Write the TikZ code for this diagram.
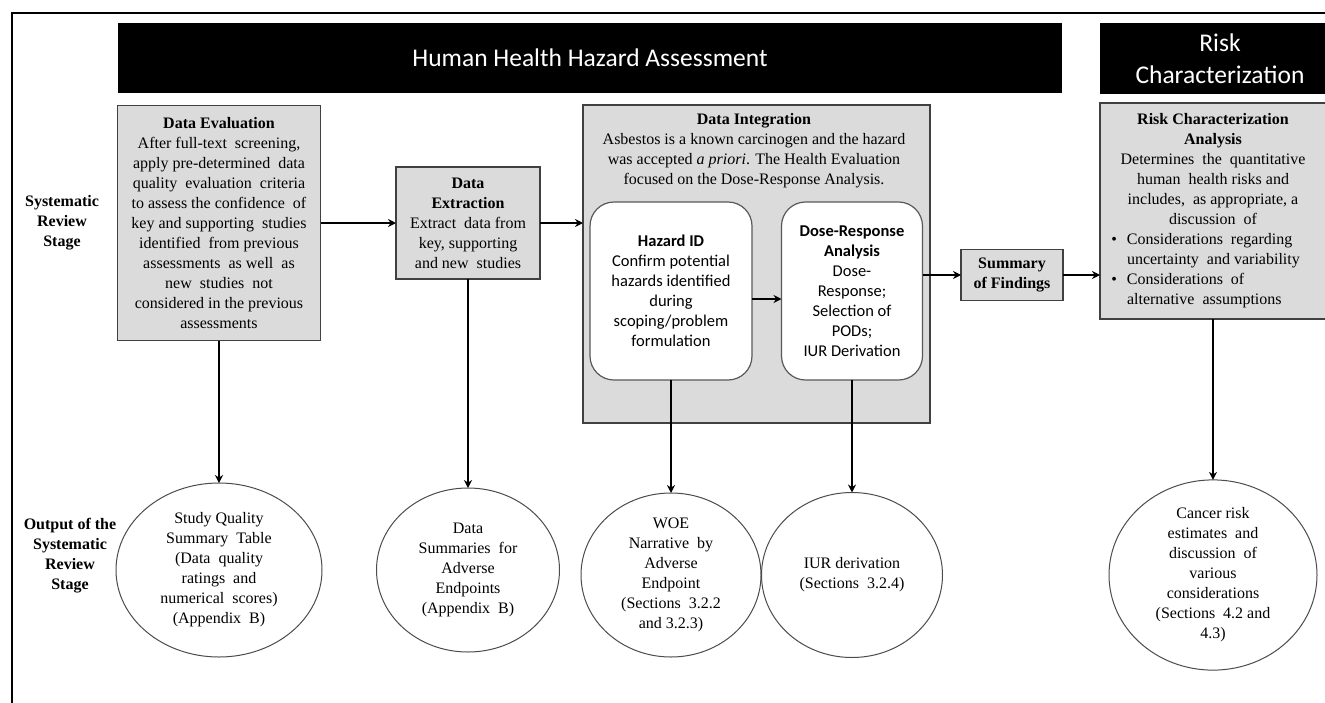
\documentclass[tikz,border=0pt]{standalone}
\usepackage{fontspec}
\setmainfont{Liberation Serif}
\newfontfamily\calib{Carlito}
\usetikzlibrary{arrows.meta,shapes.geometric}

\begin{document}
\begin{tikzpicture}[x=1pt,y=-1pt,
  every node/.style={inner sep=0pt,outer sep=0pt},
  body/.style={font=\fontsize{16}{20}\selectfont,align=center},
  banner/.style={fill=black,text=white,font=\calib\fontsize{25.5}{32}\selectfont,align=center},
  graybox/.style={body,draw=black!75,line width=1.2pt,fill=black!14},
  roundbox/.style={draw=black!65,line width=1.2pt,fill=white,rounded corners=24pt,align=center,font=\calib\fontsize{16.5}{20}\selectfont},
  outcircle/.style={body,ellipse,draw=black!70,line width=1pt,fill=white},
  sidelabel/.style={body,font=\bfseries\fontsize{16}{20}\selectfont},
  conn/.style={line width=2pt,-{Stealth[length=8pt,width=8pt]}}
]
\useasboundingbox (0,0) rectangle (1325,702);
\fill[white] (0,0) rectangle (1325,702);
\draw[line width=2pt] (12,740) -- (12,13) -- (1345,13);

% banners
\node[banner,minimum width=944pt,minimum height=70pt] (hha) at (590,58) {Human Health Hazard Assessment};
\node[banner,minimum width=240pt,minimum height=71pt] (rc) at (1220,58.5) {Risk\\Characterization};

% side labels
\node[sidelabel] (lab1) at (62,223) {Systematic\\Review\\Stage};
\node[sidelabel] (lab2) at (70,556) {Output of the\\Systematic\\Review\\Stage};

% boxes
\node[graybox,minimum width=203pt,minimum height=235pt] (deval) at (219,223) {%
{\bfseries Data Evaluation}\\
After full-text\ \ screening,\\
apply pre-determined\ \ data\\
quality\ \ evaluation\ \ criteria\\
to assess the confidence\ \ of\\
key and supporting\ \ studies\\
identified\ \ from previous\\
assessments\ \ as well\ \ as\\
new\ \ studies\ \ not\\
considered in the previous\\
assessments};

\node[graybox,minimum width=144pt,minimum height=112pt] (dext) at (468,223) {%
{\bfseries Data}\\
{\bfseries Extraction}\\
Extract\ \ data from\\
key, supporting\\
and new\ \ studies};

\node[graybox,minimum width=347pt,minimum height=318pt] (dint) at (756.5,264) {};
\node[body,anchor=north] (dinttxt) at (754,113) {%
{\bfseries Data Integration}\\
Asbestos is a known\ carcinogen\ and the hazard\\
was accepted \textit{a priori}. The Health\ Evaluation\\
focused\ on the Dose-Response\ Analysis.};

\node[roundbox,minimum width=162pt,minimum height=178pt] (haz) at (671,291) {%
{\bfseries Hazard ID}\\
Confirm potential\\
hazards identified\\
during\\
scoping/problem\\
formulation};

\node[roundbox,minimum width=141pt,minimum height=178pt] (dr) at (852,291) {%
{\bfseries Dose-Response}\\
{\bfseries Analysis}\\
Dose-\\
Response;\\
Selection of\\
PODs;\\
IUR Derivation};

\node[graybox,minimum width=102pt,minimum height=51pt,font=\bfseries\fontsize{16}{20}\selectfont] (sum) at (1012,275) {Summary\\of Findings};

\node[graybox,minimum width=226pt,minimum height=216pt] (rca) at (1213,211) {%
{\bfseries Risk Characterization}\\
{\bfseries Analysis}\\
Determines\ \ the\ \ quantitative\\
human\ \ health\ risks and\\
includes,\ \ as appropriate,\ a\\
discussion\ \ of\\
\makebox[172pt][l]{\llap{\textbullet\hspace{10pt}}Considerations\ \ regarding}\\
\makebox[172pt][l]{uncertainty\ \ and variability}\\
\makebox[172pt][l]{\llap{\textbullet\hspace{10pt}}Considerations\ \ of}\\
\makebox[172pt][l]{alternative\ \ assumptions}};

% output circles
\node[outcircle,minimum width=206pt,minimum height=174pt] (c1) at (219,570) {%
Study Quality\\Summary\ \ Table\\(Data\ \ quality\\ratings\ \ and\\numerical\ \ scores)\\(Appendix\ \ B)};
\node[outcircle,minimum width=183pt,minimum height=164pt] (c2) at (468,570) {%
Data\\Summaries\ \ for\\Adverse\\Endpoints\\(Appendix\ \ B)};
\node[outcircle,minimum width=180pt,minimum height=164pt] (c3) at (671,575) {%
WOE\\Narrative\ \ by\\Adverse\\Endpoint\\(Sections\ \ 3.2.2\\and 3.2.3)};
\node[outcircle,minimum width=181pt,minimum height=165pt] (c4) at (852,575) {%
IUR derivation\\(Sections\ \ 3.2.4)};
\node[outcircle,minimum width=208pt,minimum height=164pt] (c5) at (1213,575) {%
Cancer risk\\estimates\ \ and\\discussion\ \ of\\various\\considerations\\(Sections\ \ 4.2 and\\4.3)};

% connectors
\coordinate (hzy) at (0,299);
\draw[conn] (deval.east) -- (dext.west);
\draw[conn] (dext.east) -- (dint.west |- dext.east);
\draw[conn] (haz.east |- hzy) -- (dr.west |- hzy);
\draw[conn] (dr.east |- sum.west) -- (sum.west);
\draw[conn] (sum.east) -- (rca.west |- sum.east);
\draw[conn] (deval.south) -- (c1.north);
\draw[conn] (dext.south) -- (c2.north);
\draw[conn] (haz.south) -- (c3.north);
\draw[conn] (dr.south) -- (c4.north);
\draw[conn] (rca.south) -- (c5.north);
\end{tikzpicture}
\end{document}
